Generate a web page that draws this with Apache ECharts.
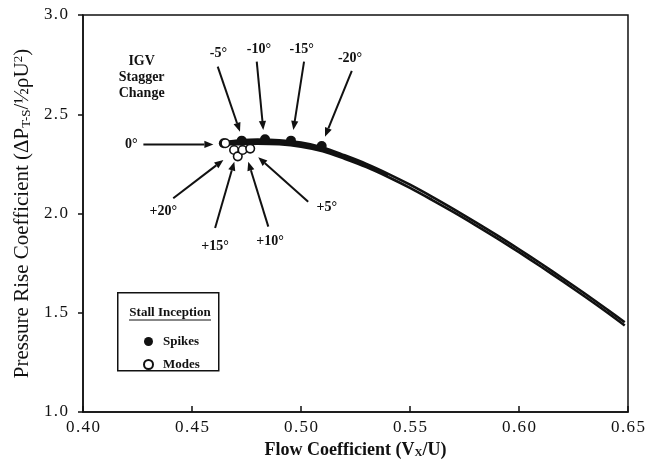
<!DOCTYPE html>
<html>
<head>
<meta charset="utf-8">
<script src="https://cdn.jsdelivr.net/npm/echarts@6/dist/echarts.min.js"></script>
<style>
  html, body { margin: 0; padding: 0; background: #fff; }
  #chart { width: 648px; height: 465px; }
</style>
</head>
<body>
<div id="chart"></div>
<script>
// Compressor characteristic: pressure rise vs flow coefficient, stall inception points
const xTicks = [0.40, 0.45, 0.50, 0.55, 0.60, 0.65];
const yTicks = [1.0, 1.5, 2.0, 2.5, 3.0];

// Characteristic band (upper and lower edges of the bundled curves)
const flowGrid   = [0.465, 0.470, 0.480, 0.490, 0.500, 0.510, 0.520, 0.530, 0.540, 0.550,
                    0.560, 0.570, 0.580, 0.590, 0.600, 0.610, 0.620, 0.630, 0.640, 0.6485];
const upperCurve = [2.360, 2.366, 2.372, 2.369, 2.357, 2.333, 2.293, 2.250, 2.200, 2.145,
                    2.085, 2.022, 1.957, 1.890, 1.820, 1.748, 1.674, 1.598, 1.520, 1.452];
const lowerCurve = [2.348, 2.349, 2.352, 2.349, 2.337, 2.314, 2.276, 2.234, 2.184, 2.129,
                    2.069, 2.007, 1.942, 1.875, 1.805, 1.733, 1.659, 1.583, 1.505, 1.436];
// Middle curve of the bundle near the stall end
const midFlow    = [0.465, 0.470, 0.480, 0.490, 0.500, 0.510, 0.520, 0.530, 0.540];
const midCurve   = [2.354, 2.358, 2.363, 2.360, 2.347, 2.323, 2.284, 2.242, 2.192];

// Stall inception points
const spikePoints = [[0.4646, 2.354], [0.4728, 2.367], [0.4835, 2.374], [0.4954, 2.367], [0.5095, 2.340]];
const modePoints  = [[0.4653, 2.354], [0.4693, 2.320], [0.4710, 2.288], [0.4732, 2.320], [0.4767, 2.327]];

// IGV stagger annotations: label, label position, arrow tail, arrow tip
const staggerLabels = ['0°', '-5°', '-10°', '-15°', '-20°', '+5°', '+10°', '+15°', '+20°'];
const labelPos = [[0.4222, 2.348], [0.4621, 2.807], [0.4807, 2.827], [0.5003, 2.827], [0.5225, 2.781],
                  [0.5118, 2.031], [0.4858, 1.858], [0.4606, 1.833], [0.4368, 2.009]];
const arrowTail = [[0.4277, 2.348], [0.4618, 2.740], [0.4797, 2.765], [0.5014, 2.765], [0.5233, 2.719],
                   [0.5033, 2.059], [0.4850, 1.934], [0.4606, 1.927], [0.4414, 2.077]];
const arrowTip  = [[0.4598, 2.348], [0.4720, 2.412], [0.4827, 2.421], [0.4965, 2.421], [0.5110, 2.387],
                   [0.4804, 2.283], [0.4758, 2.261], [0.4694, 2.261], [0.4644, 2.270]];
const noteText = 'IGV\nStagger\nChange';
const notePos  = [0.4269, 2.684];

const SERIF = '"Liberation Serif", "DejaVu Serif", serif';
const INK = '#111';

const chart = echarts.init(document.getElementById('chart'), null, { renderer: 'canvas' });

const spaced = s => s.split('').join('\u200A');

function renderArrow(params, api) {
  const a = api.coord([api.value(0), api.value(1)]);
  const b = api.coord([api.value(2), api.value(3)]);
  const dx = b[0] - a[0], dy = b[1] - a[1];
  const len = Math.hypot(dx, dy);
  const ux = dx / len, uy = dy / len;
  const headLen = 9, headHalf = 3.6;
  const bx = b[0] - ux * headLen, by = b[1] - uy * headLen;
  return {
    type: 'group',
    children: [
      { type: 'line', shape: { x1: a[0], y1: a[1], x2: bx, y2: by },
        style: { stroke: INK, lineWidth: 2 } },
      { type: 'polygon',
        shape: { points: [[b[0], b[1]], [bx - uy * headHalf, by + ux * headHalf], [bx + uy * headHalf, by - ux * headHalf]] },
        style: { fill: INK } }
    ]
  };
}

function renderNote(texts) {
  return function (params, api) {
    const p = api.coord([api.value(0), api.value(1)]);
    return {
      type: 'text', x: p[0], y: p[1],
      style: {
        text: texts[params.dataIndex],
        align: 'center', verticalAlign: 'middle',
        font: 'bold 14px ' + SERIF, lineHeight: 16, fill: INK
      }
    };
  };
}

const lineStyle = { color: INK, width: 2.6 };

chart.setOption({
  animation: false,
  backgroundColor: '#fff',
  grid: { left: 83, right: 20, top: 15, bottom: 53, show: true, borderColor: INK, borderWidth: 1.5 },
  xAxis: {
    type: 'value', min: 0.40, max: 0.65, interval: 0.05,
    name: '{t|Flow Coefficient (V}{s|X}{t|/U)}',
    nameLocation: 'middle', nameGap: 11,
    nameTextStyle: {
      rich: {
        t: { fontFamily: SERIF, fontSize: 18, fontWeight: 'bold', color: INK },
        s: { fontFamily: SERIF, fontSize: 11, fontWeight: 'bold', color: INK, verticalAlign: 'bottom', lineHeight: 11 }
      }
    },
    axisLine: { onZero: false, lineStyle: { color: INK, width: 1.5 } },
    axisTick: { inside: true, length: 6, lineStyle: { color: INK, width: 1.5 } },
    axisLabel: { fontFamily: SERIF, fontSize: 17, color: INK, margin: 7,
                 formatter: v => spaced(v.toFixed(2)) },
    splitLine: { show: false }
  },
  yAxis: {
    type: 'value', min: 1.0, max: 3.0, interval: 0.5,
    name: '{t|Pressure Rise Coefficient (ΔP}{s|T-S}{t|/½ρU}{p|2}{t|)}',
    nameLocation: 'middle', nameGap: 44,
    nameTextStyle: {
      rich: {
        t: { fontFamily: SERIF, fontSize: 21, color: INK },
        s: { fontFamily: SERIF, fontSize: 13, color: INK, verticalAlign: 'bottom', lineHeight: 13 },
        p: { fontFamily: SERIF, fontSize: 13, color: INK, verticalAlign: 'top', lineHeight: 13 }
      }
    },
    axisLine: { onZero: false, lineStyle: { color: INK, width: 1.5 } },
    axisTick: { inside: false, length: 5, lineStyle: { color: INK, width: 1.5 } },
    axisLabel: { fontFamily: SERIF, fontSize: 17, color: INK, margin: 15,
                 formatter: v => spaced(v.toFixed(1)) },
    splitLine: { show: false }
  },
  legend: {
    data: ['Spikes', 'Modes'],
    orient: 'vertical', left: 143, top: 335, padding: 0,
    itemWidth: 9, itemHeight: 9, itemGap: 10,
    selectedMode: false,
    textStyle: { fontFamily: SERIF, fontSize: 13, fontWeight: 'bold', color: INK, padding: [0, 0, 0, 5] }
  },
  graphic: [
    { type: 'rect', left: 117, top: 292, shape: { width: 101, height: 78 },
      style: { fill: '#fff', stroke: INK, lineWidth: 1.5 }, z: 0 },
    { type: 'text', x: 170, y: 313, style: { text: 'Stall Inception', font: 'bold 13px ' + SERIF,
      fill: INK, align: 'center', verticalAlign: 'middle' }, z: 1 },
    { type: 'line', shape: { x1: 129, y1: 320, x2: 211, y2: 320 },
      style: { stroke: INK, lineWidth: 1 }, z: 1 }
  ],
  series: [
    { name: 'upper', type: 'line', data: flowGrid.map((x, i) => [x, upperCurve[i]]),
      showSymbol: false, smooth: 0.3, lineStyle, z: 2 },
    { name: 'lower', type: 'line', data: flowGrid.map((x, i) => [x, lowerCurve[i]]),
      showSymbol: false, smooth: 0.3, lineStyle, z: 2 },
    { name: 'mid', type: 'line', data: midFlow.map((x, i) => [x, midCurve[i]]),
      showSymbol: false, smooth: 0.3, lineStyle: { color: INK, width: 3.5 }, z: 2 },
    { name: 'Spikes', type: 'scatter', data: spikePoints, symbol: 'circle', symbolSize: 10,
      itemStyle: { color: INK, opacity: 1 }, z: 3 },
    { name: 'Modes', type: 'scatter', data: modePoints, symbol: 'circle', symbolSize: 8.5,
      itemStyle: { color: '#fff', borderColor: INK, borderWidth: 1.6, opacity: 1 }, z: 4 },
    { name: 'arrows', type: 'custom', renderItem: renderArrow, clip: false,
      data: arrowTail.map((t, i) => [t[0], t[1], arrowTip[i][0], arrowTip[i][1]]),
      encode: { x: [0, 2], y: [1, 3] }, z: 5 },
    { name: 'staggerLabels', type: 'custom', renderItem: renderNote(staggerLabels), clip: false,
      data: labelPos, z: 5 },
    { name: 'note', type: 'custom', renderItem: renderNote([noteText]), clip: false,
      data: [notePos], z: 5 }
  ]
});
</script>
</body>
</html>
